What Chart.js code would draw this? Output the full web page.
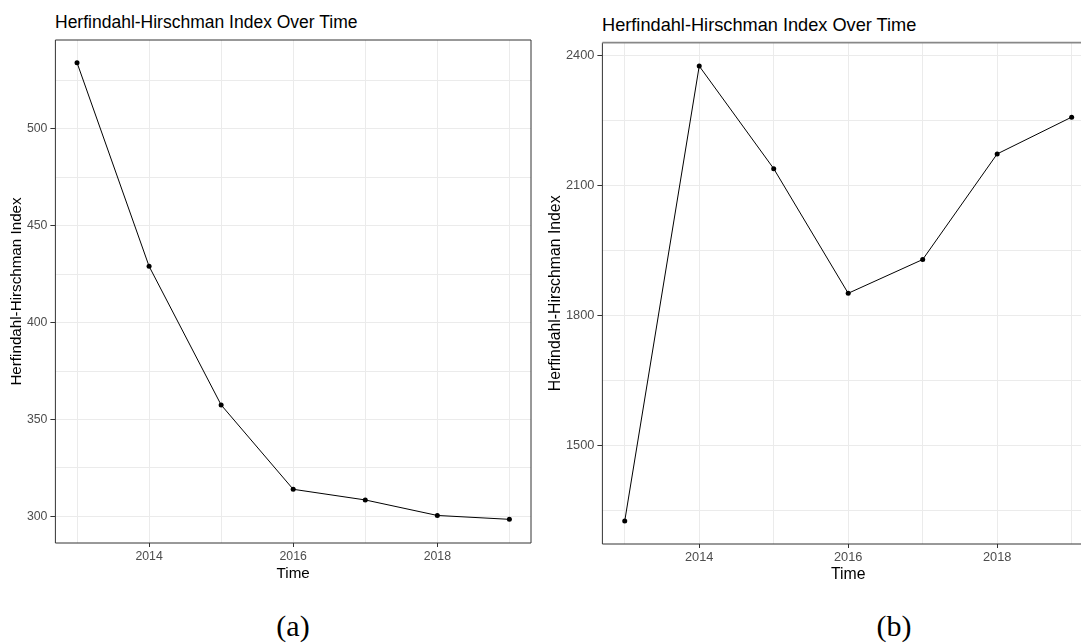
<!DOCTYPE html>
<html>
<head>
<meta charset="utf-8">
<script src="https://cdn.jsdelivr.net/npm/chart.js@4.4.1/dist/chart.umd.min.js"></script>
<style>
  html, body { margin: 0; padding: 0; background: #fff; overflow: hidden; width: 1081px; height: 644px; }
  .panel { position: absolute; top: 0; height: 600px; }
  .title { position: absolute; font-family: 'Liberation Sans', Arial, sans-serif; color: #000; white-space: nowrap; line-height: 20px; }
  .cap { position: absolute; font-family: 'Liberation Serif', 'Times New Roman', serif; font-size: 30px; color: #000; transform: translate(-50%, -50%); }
</style>
</head>
<body>
<div class="title" style="left:55px; top:12px; font-size:17.5px;">Herfindahl-Hirschman Index Over Time</div>
<div class="title" style="left:602px; top:15px; font-size:18.2px;">Herfindahl-Hirschman Index Over Time</div>
<div class="panel" style="left:0; width:540px;"><canvas id="chartA"></canvas></div>
<div class="panel" style="left:545px; width:560px;"><canvas id="chartB"></canvas></div>
<div class="cap" style="left:293px; top:626px;">(a)</div>
<div class="cap" style="left:894px; top:626px;">(b)</div>
<script>
// data
const years = [2013, 2014, 2015, 2016, 2017, 2018, 2019];
const hhiA = [534, 429, 357.5, 314, 308.5, 300.5, 298.5];
const hhiB = [1325, 2376, 2139, 1851, 1929, 2173, 2258];

const xTicks = [2013, 2014, 2015, 2016, 2017, 2018, 2019];
const xLabels = [2014, 2016, 2018];
const xRange = [2012.7, 2019.3];

const yTicksA = [300, 325, 350, 375, 400, 425, 450, 475, 500, 525];
const yLabelsA = [300, 350, 400, 450, 500];
const yRangeA = [286.3, 545.7];

const yTicksB = [1350, 1500, 1650, 1800, 1950, 2100, 2250, 2400];
const yLabelsB = [1500, 1800, 2100, 2400];
const yRangeB = [1271.7, 2430];

const FONT = "'Liberation Sans', Arial, sans-serif";

// panel border round the plot area (theme_bw look)
const boxPlugin = {
  id: 'box',
  beforeDatasetsDraw(chart, args, opts) {
    const a = chart.chartArea, ctx = chart.ctx;
    ctx.save();
    ctx.lineWidth = 1;
    ctx.strokeStyle = '#333';
    ctx.beginPath();
    ctx.moveTo(a.left, a.top);
    ctx.lineTo(a.left, a.bottom);
    ctx.lineTo(a.right, a.bottom);
    if (opts.right) ctx.lineTo(a.right, a.top);
    ctx.stroke();
    ctx.strokeStyle = opts.topColor;
    ctx.lineWidth = opts.topWidth;
    ctx.beginPath();
    ctx.moveTo(a.left, a.top);
    ctx.lineTo(a.right, a.top);
    ctx.stroke();
    ctx.restore();
  }
};

function makeChart(id, values, yTicks, yLabels, yRange, g) {
  new Chart(document.getElementById(id), {
    type: 'line',
    data: {
      datasets: [{
        data: years.map((x, i) => ({ x: x, y: values[i] })),
        borderColor: '#000',
        borderWidth: 1,
        backgroundColor: '#000',
        pointRadius: 2.5,
        pointBorderWidth: 0,
        tension: 0
      }]
    },
    options: {
      responsive: true,
      maintainAspectRatio: false,
      animation: false,
      layout: { padding: { left: 0, top: g.top, right: g.right, bottom: 0 } },
      plugins: {
        legend: { display: false },
        tooltip: { enabled: false },
        box: { right: g.boxRight, topColor: g.topColor, topWidth: g.topWidth }
      },
      scales: {
        x: {
          type: 'linear',
          min: xRange[0],
          max: xRange[1],
          afterBuildTicks: s => { s.ticks = xTicks.map(v => ({ value: v })); },
          afterFit: s => { s.height = g.xHeight; },
          grid: {
            color: '#EBEBEB',
            lineWidth: 1,
            tickLength: 4,
            tickColor: c => xLabels.includes(c.tick && c.tick.value) ? '#333' : 'rgba(0,0,0,0)'
          },
          border: { display: false },
          ticks: {
            autoSkip: false,
            maxRotation: 0,
            padding: 2,
            color: '#4D4D4D',
            font: { family: FONT, size: g.tick },
            callback: v => xLabels.includes(v) ? String(v) : ''
          },
          title: {
            display: true,
            text: 'Time',
            color: '#000',
            font: { family: FONT, size: g.axis },
            padding: { top: 0, bottom: g.xTitlePad }
          }
        },
        y: {
          min: yRange[0],
          max: yRange[1],
          afterBuildTicks: s => { s.ticks = yTicks.map(v => ({ value: v })); },
          afterFit: s => { s.width = g.yWidth; },
          grid: {
            color: '#EBEBEB',
            lineWidth: 1,
            tickLength: 5,
            tickColor: c => yLabels.includes(c.tick && c.tick.value) ? '#333' : 'rgba(0,0,0,0)'
          },
          border: { display: false },
          ticks: {
            autoSkip: false,
            padding: 3,
            color: '#4D4D4D',
            font: { family: FONT, size: g.tick },
            callback: v => yLabels.includes(v) ? String(v) : ''
          },
          title: {
            display: true,
            text: 'Herfindahl-Hirschman Index',
            color: '#000',
            font: { family: FONT, size: g.axis },
            padding: { top: g.yTitlePad, bottom: 0 }
          }
        }
      }
    },
    plugins: [boxPlugin]
  });
}

makeChart('chartA', hhiA, yTicksA, yLabelsA, yRangeA,
  { top: 40, right: 9, xHeight: 57, yWidth: 55.4, tick: 12.3, axis: 15.2, xTitlePad: 17, yTitlePad: 8,
    boxRight: true, topColor: '#333', topWidth: 1 });
makeChart('chartB', hhiB, yTicksB, yLabelsB, yRangeB,
  { top: 42.7, right: 11, xHeight: 56, yWidth: 57.4, tick: 12.8, axis: 15.8, xTitlePad: 15.5, yTitlePad: 1,
    boxRight: false, topColor: '#888', topWidth: 1.7 });
</script>
</body>
</html>
